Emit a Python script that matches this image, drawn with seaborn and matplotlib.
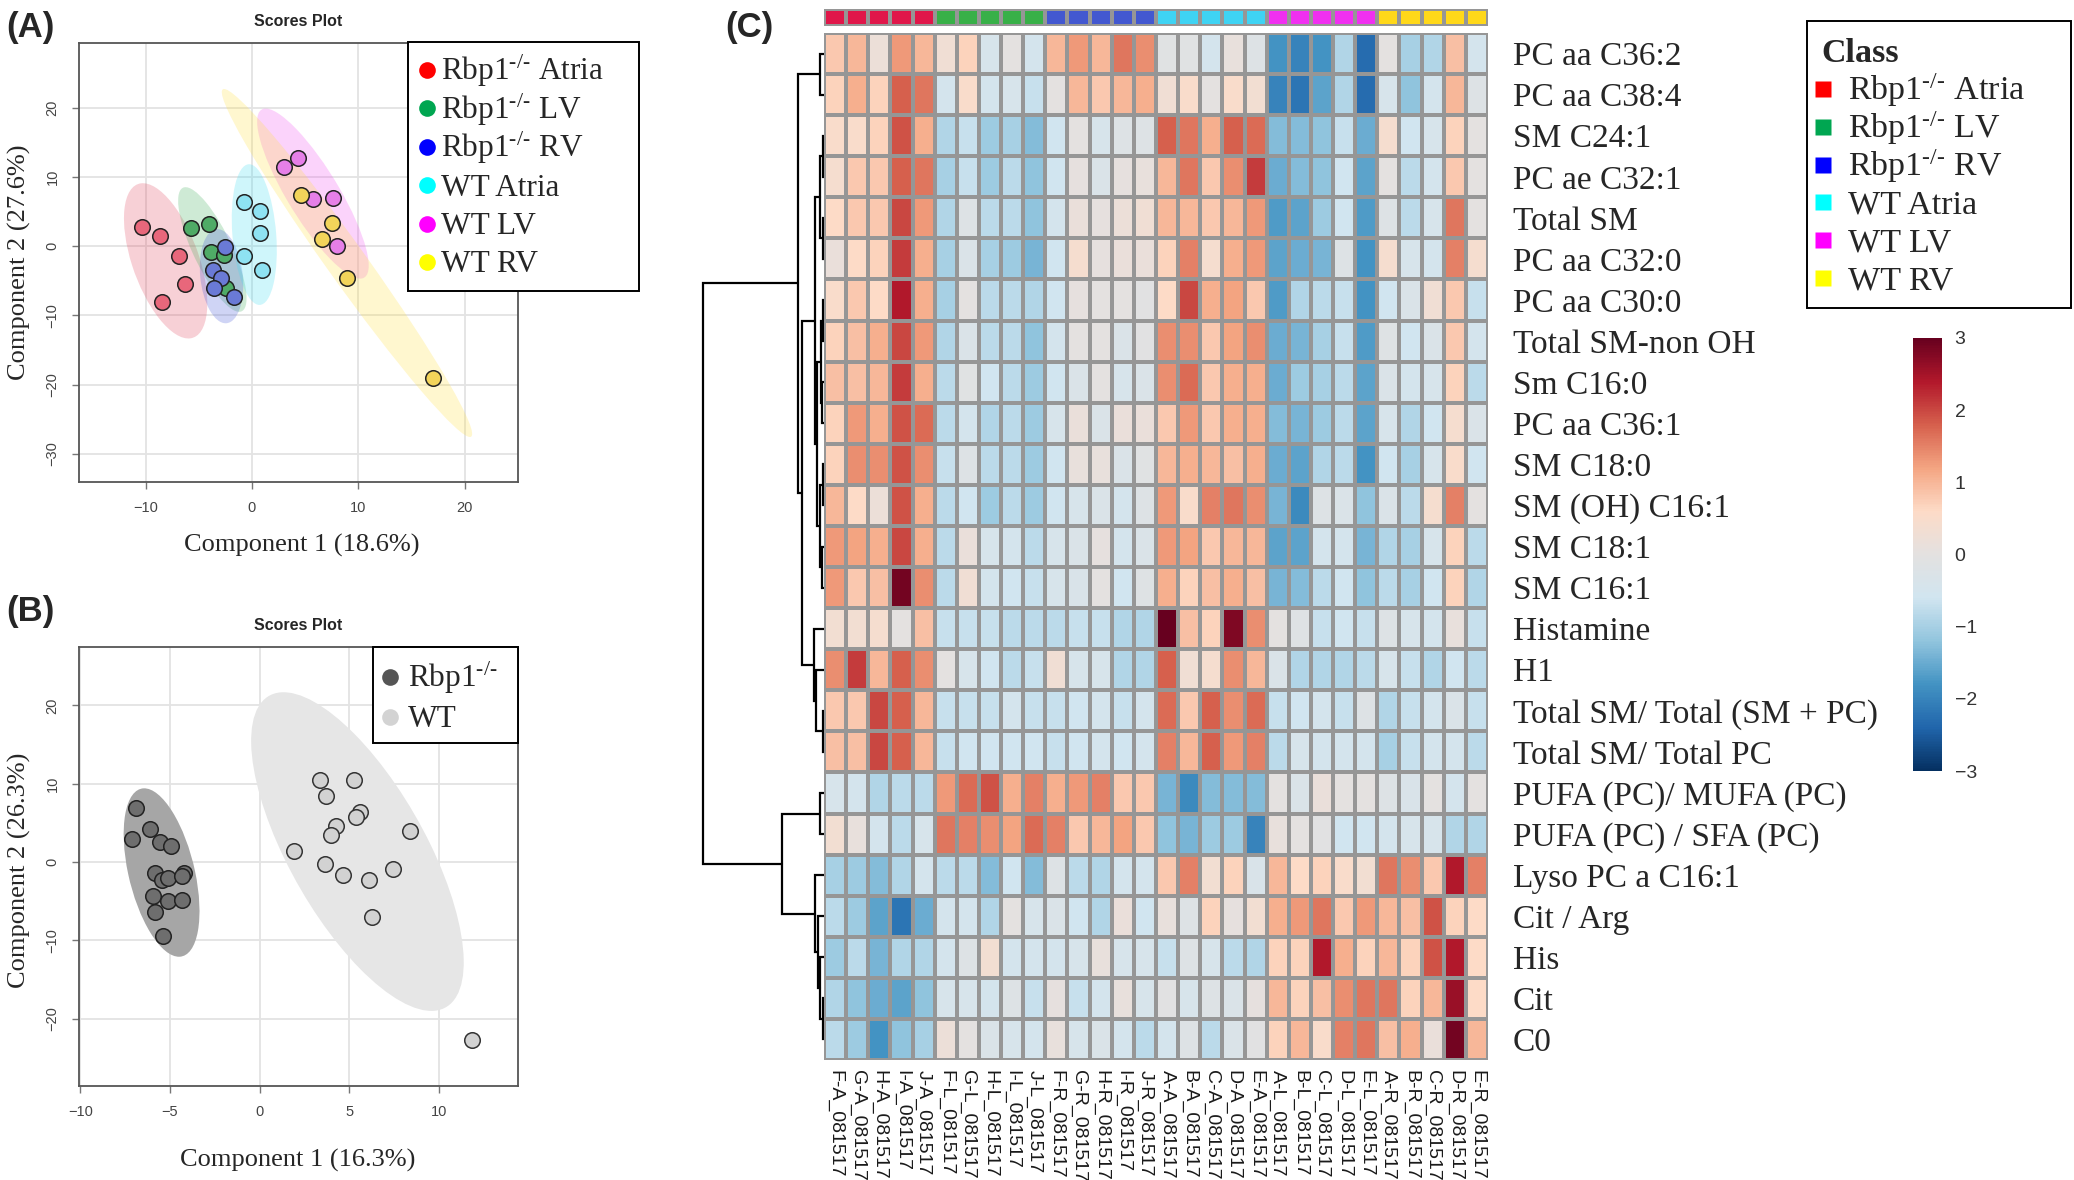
import numpy as np
import pandas as pd
import matplotlib
matplotlib.use('Agg')
import matplotlib.pyplot as plt
import seaborn as sns
from matplotlib.patches import Ellipse, Rectangle
from matplotlib.lines import Line2D
from matplotlib.colors import LinearSegmentedColormap, ListedColormap

sns.set_style('white')
plt.rcParams['font.family'] = ['Liberation Serif', 'DejaVu Serif']
plt.rcParams['mathtext.fontset'] = 'custom'
plt.rcParams['mathtext.rm'] = 'Liberation Serif'
plt.rcParams['mathtext.default'] = 'regular'

# ---------------- data: panel A (6-class PLS-DA scores) ----------------
ko_atria_x = [-10.35, -8.6, -6.85, -6.3, -8.45]
ko_atria_y = [2.8, 1.55, -1.4, -5.5, -8.0]
ko_lv_x = [-5.7, -4.05, -3.8, -2.6, -2.45]
ko_lv_y = [2.6, 3.2, -0.9, -1.25, -6.0]
ko_rv_x = [-2.5, -3.7, -2.9, -3.55, -1.65]
ko_rv_y = [-0.15, -3.4, -4.6, -6.1, -7.4]
wt_atria_x = [-0.75, 0.8, 0.8, -0.7, 0.95]
wt_atria_y = [6.35, 5.1, 1.85, -1.45, -3.4]
wt_lv_x = [3.0, 4.3, 5.7, 7.65, 8.0]
wt_lv_y = [11.5, 12.8, 6.8, 7.0, 0.0]
wt_rv_x = [4.6, 7.5, 6.55, 8.95, 17.05]
wt_rv_y = [7.35, 3.3, 1.0, -4.65, -19.1]

ko_sup = r'Rbp1$^{\text{-/-}}$'
class_labels = [ko_sup + ' Atria', ko_sup + ' LV', ko_sup + ' RV',
                'WT Atria', 'WT LV', 'WT RV']
legend_colors = ['#FF0000', '#00A651', '#0000FF', '#00FFFF', '#FF00FF', '#FFFF00']
ellipse_colors = ['#E2445C', '#3FAF5A', '#4256D8', '#40DDF2', '#F050F0', '#FFE040']
point_colors = ['#E8677B', '#4FAB66', '#6A7AD6', '#8EE2F2', '#E67FE8', '#F2D45A']

# ---------------- data: panel B (2-class scores) ----------------
ko_x = [-6.88, -6.1, -7.11, -5.54, -4.92, -5.82, -5.45, -5.08, -4.23, -4.3,
        -5.94, -5.08, -4.3, -5.84, -5.38]
ko_y = [6.89, 4.25, 2.88, 2.59, 1.98, -1.37, -2.31, -1.98, -1.37, -1.75,
        -4.29, -5.0, -4.9, -6.42, -9.39]
wt_x = [3.37, 5.24, 3.7, 5.61, 5.4, 4.27, 3.97, 8.36, 1.92, 3.65,
        4.67, 7.44, 6.1, 6.28, 11.87]
wt_y = [10.47, 10.52, 8.49, 6.37, 5.71, 4.62, 3.44, 3.92, 1.42, -0.28,
        -1.7, -0.85, -2.36, -7.03, -22.78]
two_class_labels = [ko_sup, 'WT']
two_class_colors = ['#555555', '#D3D3D3']

# ---------------- data: panel C (heatmap) ----------------
row_labels = ['PC aa C36:2', 'PC aa C38:4', 'SM C24:1', 'PC ae C32:1', 'Total SM',
              'PC aa C32:0', 'PC aa C30:0', 'Total SM-non OH', 'Sm C16:0', 'PC aa C36:1',
              'SM C18:0', 'SM (OH) C16:1', 'SM C18:1', 'SM C16:1', 'Histamine', 'H1',
              'Total SM/ Total (SM + PC)', 'Total SM/ Total PC', 'PUFA (PC)/ MUFA (PC)',
              'PUFA (PC) / SFA (PC)', 'Lyso PC a C16:1', 'Cit / Arg', 'His', 'Cit', 'C0']
col_labels = ['F-A_081517', 'G-A_081517', 'H-A_081517', 'I-A_081517', 'J-A_081517',
              'F-L_081517', 'G-L_081517', 'H-L_081517', 'I-L_081517', 'J-L_081517',
              'F-R_081517', 'G-R_081517', 'H-R_081517', 'I-R_081517', 'J-R_081517',
              'A-A_081517', 'B-A_081517', 'C-A_081517', 'D-A_081517', 'E-A_081517',
              'A-L_081517', 'B-L_081517', 'C-L_081517', 'D-L_081517', 'E-L_081517',
              'A-R_081517', 'B-R_081517', 'C-R_081517', 'D-R_081517', 'E-R_081517']
col_class = [0] * 5 + [1] * 5 + [2] * 5 + [3] * 5 + [4] * 5 + [5] * 5
annot_colors = ['#E0174A', '#38B048', '#4358D0', '#3FD3F3', '#F030F0', '#FFD81A']

hm_values = [
    [0.8, 1.0, 0.2, 1.3, 1.0, 0.3, 0.7, -0.4, 0.0, -0.5, 1.0, 1.3, 1.0, 1.6, 1.4, -0.1, -0.1, -0.5, 0.1, -0.2, -1.8, -2.0, -1.8, -0.9, -2.3, 0.0, -1.0, -0.9, 0.9, -0.5],
    [0.7, 1.1, 0.7, 1.8, 1.6, -0.5, 0.5, -0.5, -0.4, -0.7, 0.0, 1.0, 0.8, 1.0, 1.1, 0.3, 0.5, 0.0, 0.5, 0.35, -2.0, -2.2, -1.6, -0.9, -2.3, -0.4, -1.2, -0.5, 1.0, -0.2],
    [0.5, 0.5, 0.7, 1.9, 1.1, -0.9, -0.7, -1.1, -1.0, -1.3, -0.6, 0.0, -0.4, -0.2, -0.2, 1.8, 1.6, 1.1, 1.8, 1.7, -1.3, -1.3, -1.2, -0.7, -1.5, 0.4, -0.6, -0.4, 0.7, 0.0],
    [0.4, 0.8, 0.8, 1.8, 1.6, -1.0, -0.7, -1.1, -0.8, -1.2, -0.6, 0.05, -0.3, 0.05, 0.1, 1.0, 1.6, 0.8, 1.4, 2.1, -1.5, -1.3, -1.2, -0.6, -1.6, 0.0, -0.8, -0.5, 0.8, 0.0],
    [0.6, 0.8, 0.8, 2.0, 1.3, -0.9, -0.2, -0.8, -0.8, -1.2, -0.5, 0.15, 0.05, 0.2, 0.3, 1.0, 1.0, 0.8, 1.0, 1.3, -1.7, -1.6, -1.1, -0.6, -1.7, -0.2, -0.8, -0.4, 1.6, 0.0],
    [0.15, 0.6, 0.7, 2.1, 1.1, -1.0, -0.3, -1.0, -1.1, -1.4, -0.6, 0.4, 0.05, 0.15, 0.15, 0.7, 1.5, 0.4, 1.1, 1.3, -1.6, -1.5, -1.4, -0.2, -1.8, 0.4, -0.4, -0.5, 1.5, 0.4],
    [0.5, 0.8, 0.6, 2.4, 1.1, -1.0, 0.0, -0.8, -0.8, -0.9, -0.6, 0.05, 0.0, 0.0, -0.05, 0.6, 2.0, 1.1, 1.2, 0.8, -1.7, -0.9, -0.8, -0.7, -1.8, -0.6, -0.3, 0.3, 0.8, -0.7],
    [0.7, 0.9, 1.1, 2.0, 1.3, -0.9, -0.3, -0.8, -0.8, -1.2, -0.5, 0.0, 0.0, -0.3, -0.05, 1.4, 1.4, 0.8, 1.2, 1.4, -1.5, -1.4, -1.0, -0.7, -1.7, -0.15, -0.6, -0.3, 0.8, -0.5],
    [0.9, 0.9, 1.0, 2.1, 1.1, -0.8, -0.1, -0.6, -0.8, -1.1, -0.6, -0.3, 0.0, -0.4, -0.3, 1.4, 1.7, 0.8, 1.1, 1.1, -1.5, -1.1, -1.0, -0.8, -1.6, -0.3, -0.5, -0.4, 0.7, -0.8],
    [0.7, 1.3, 1.1, 1.9, 1.7, -0.8, -0.5, -0.9, -0.8, -1.1, -0.4, 0.15, -0.3, 0.15, 0.15, 0.8, 1.3, 0.8, 1.1, 1.1, -1.3, -1.4, -1.1, -0.8, -1.6, -0.4, -0.9, -0.6, 0.4, -0.3],
    [0.7, 1.4, 1.4, 1.9, 1.4, -0.7, -0.2, -0.8, -0.8, -1.1, -0.6, 0.1, 0.1, -0.3, -0.1, 1.0, 1.1, 1.0, 0.9, 1.1, -1.5, -1.6, -0.9, -0.8, -1.8, -0.6, -1.0, -0.4, 0.5, -0.6],
    [1.0, 0.6, 0.2, 1.9, 1.1, -0.8, -0.6, -1.1, -0.8, -1.1, -0.6, -0.4, -0.3, -0.5, -0.2, 1.3, 0.5, 1.5, 1.6, 1.4, -1.4, -1.9, -0.2, -0.3, -1.2, -0.3, -0.8, 0.4, 1.5, 0.0],
    [1.3, 1.2, 1.1, 2.0, 1.1, -0.8, 0.15, -0.4, -0.5, -0.8, -0.4, -0.3, 0.05, -0.5, -0.3, 1.3, 1.2, 0.8, 1.0, 1.0, -1.6, -1.6, -0.5, -0.5, -1.4, -0.9, -1.0, -0.4, 0.7, -0.8],
    [1.3, 0.8, 0.9, 2.9, 1.4, -0.8, 0.3, -0.5, -0.6, -0.7, -0.4, -0.35, 0.0, -0.6, -0.15, 1.1, 0.7, 0.9, 1.1, 0.9, -1.4, -1.3, -0.8, -0.6, -1.2, -0.8, -1.0, -0.6, 0.7, -0.9],
    [0.35, 0.35, 0.4, 0.0, 0.9, -0.7, -0.7, -0.7, -0.8, -0.8, -0.8, -0.7, -0.7, -0.9, -0.9, 3.0, 0.9, 0.7, 2.8, 1.4, 0.0, -0.15, -0.7, -0.6, -0.7, -0.2, -0.4, -0.5, 0.1, -0.7],
    [1.4, 2.1, 1.0, 1.8, 1.4, 0.0, -0.4, -0.6, -0.8, -0.7, 0.3, -0.4, -0.4, -0.9, -0.9, 1.8, 0.3, 0.4, 1.4, 1.0, -0.3, -0.9, -0.9, -0.9, -0.8, -0.4, -0.7, -0.9, -0.6, -0.8],
    [0.8, 0.8, 2.0, 1.8, 1.0, -0.7, -0.7, -0.7, -0.5, -0.7, -0.7, -0.6, -0.5, -0.7, -0.5, 1.7, 0.8, 1.8, 1.4, 1.7, -0.7, -0.6, -0.5, -0.7, -0.2, -0.9, -0.7, -0.5, -0.3, -0.7],
    [0.9, 0.9, 2.0, 1.8, 1.0, -0.7, -0.6, -0.6, -0.6, -0.6, -0.7, -0.6, -0.5, -0.6, -0.5, 1.5, 1.0, 1.8, 1.3, 1.5, -0.8, -0.4, -0.5, -0.5, -0.5, -1.0, -0.7, -0.5, -0.5, -0.8],
    [-0.4, -0.5, -0.9, -0.8, -0.8, 1.3, 1.7, 1.9, 1.1, 1.5, 1.1, 1.3, 1.5, 0.8, 0.8, -1.4, -1.9, -1.3, -1.3, -1.3, 0.0, -0.3, 0.15, 0.0, 0.0, -0.2, -0.35, 0.0, -0.5, 0.0],
    [0.35, 0.1, -0.5, -0.8, -0.4, 1.6, 1.5, 1.4, 1.2, 1.7, 1.5, 0.8, 1.0, 1.2, 0.8, -1.2, -1.4, -1.1, -1.1, -2.0, 0.1, 0.0, -0.05, -0.6, -0.6, -0.5, -0.4, -0.4, -0.9, -0.9],
    [-1.0, -1.1, -1.3, -0.9, -0.5, -0.8, -0.8, -1.3, -0.6, -1.3, -0.2, -0.8, -0.9, -0.5, -0.5, 0.8, 1.5, 0.35, 0.7, -0.35, 1.0, 0.6, 0.7, 0.5, 0.35, 1.6, 1.4, 0.8, 2.4, 1.5],
    [-0.8, -1.1, -1.6, -2.2, -1.5, -0.5, -0.5, -0.9, 0.0, -0.4, -0.3, -0.6, -0.9, 0.15, -0.6, 0.1, -0.2, 0.7, 0.05, 0.35, 1.1, 1.3, 1.6, 0.8, 1.3, 1.0, 0.9, 1.9, 0.7, 0.6],
    [-1.1, -0.8, -1.4, -0.9, -0.9, -0.5, -0.2, 0.35, -0.5, -0.5, -0.5, -0.4, 0.1, -0.4, -0.4, -0.7, -0.2, -0.4, -0.8, -0.9, 0.7, 0.7, 2.4, 1.1, 0.7, 1.0, 0.7, 1.9, 2.4, 0.6],
    [-0.9, -1.2, -1.5, -1.6, -1.2, -0.4, -0.4, -0.5, -0.2, -0.7, 0.05, -0.7, -0.5, 0.1, -0.4, -0.05, -0.4, -0.2, -0.3, 0.05, 1.0, 0.7, 0.9, 1.4, 1.6, 1.6, 0.7, 1.0, 2.6, 0.6],
    [-0.8, -1.1, -1.8, -1.2, -1.0, 0.2, 0.0, -0.3, -0.4, -0.5, 0.1, -0.4, -0.3, -0.5, -0.8, -0.5, -0.2, -0.8, -0.3, -0.05, 0.7, 1.0, 0.5, 1.5, 1.6, 0.9, 1.1, 0.15, 2.9, 1.0],
]

# row dendrogram: (child a, child b, height); leaves 0-24, new clusters 25+
dendro_merges = [
    (16, 17, 1.0), (2, 3, 1.0), (4, 5, 1.5), (6, 7, 1.5), (10, 11, 1.5),
    (23, 24, 1.5), (8, 9, 2.0), (12, 13, 2.0), (28, 31, 3.0), (29, 32, 4.0),
    (26, 27, 4.0), (0, 1, 4.0), (18, 19, 4.0), (22, 30, 4.0), (21, 38, 6.0),
    (33, 34, 7.0), (15, 25, 8.0), (35, 40, 9.0), (20, 39, 9.0), (14, 41, 10.0),
    (42, 44, 22.0), (36, 45, 26.0), (37, 43, 42.0), (46, 47, 121.0),
]

# ---------------- figure ----------------
W, H = 2074, 1180
fig = plt.figure(figsize=(W / 100, H / 100), dpi=100)
fig.patch.set_facecolor('white')


def px_axes(l, t, r, b):
    return fig.add_axes([l / W, 1 - b / H, (r - l) / W, (b - t) / H])


def fig_text(x, y, s, **kw):
    fig.text(x / W, 1 - y / H, s, **kw)


def add_ellipse(ax, x, y, color, alpha):
    x = np.asarray(x)
    y = np.asarray(y)
    vals, vecs = np.linalg.eigh(np.cov(x, y))
    order = vals.argsort()[::-1]
    vals, vecs = vals[order], vecs[:, order]
    angle = np.degrees(np.arctan2(vecs[1, 0], vecs[0, 0]))
    w, h = 2 * np.sqrt(vals * 5.991)
    ax.add_patch(Ellipse((x.mean(), y.mean()), w, h, angle=angle,
                         facecolor=color, alpha=alpha, edgecolor='none', zorder=1))


def box_legend(box, labels, colors, marker, msize, mx, tx, y0, step, fs, title=None):
    # framed legend drawn in figure pixel space
    l, t, r, b = box
    fig.add_artist(Rectangle((l / W, 1 - b / H), (r - l) / W, (b - t) / H,
                             transform=fig.transFigure, facecolor='white',
                             edgecolor='black', lw=1.4, zorder=20))
    cap = 0.33 * fs * 100 / 72
    if title is not None:
        fig_text(mx - 2, y0 - step + cap, title, fontsize=fs, fontweight='bold',
                 ha='left', va='baseline', zorder=22)
    for i, (lab, c) in enumerate(zip(labels, colors)):
        y = y0 + i * step
        fig.add_artist(Line2D([mx / W], [1 - y / H], transform=fig.transFigure,
                              marker=marker, ms=msize, mfc=c, mec='none', ls='none',
                              zorder=21))
        fig_text(tx, y + cap, lab, fontsize=fs, ha='left', va='baseline', zorder=22)


def style_scores(ax, xticks, yticks, xlim, ylim):
    ax.set_xlim(*xlim)
    ax.set_ylim(*ylim)
    ax.set_xticks(xticks)
    ax.set_yticks(yticks)
    ax.grid(True, color='#E3E3E3', lw=1.3, zorder=0)
    ax.set_axisbelow(True)
    for sp in ax.spines.values():
        sp.set_color('#555555')
        sp.set_linewidth(1.3)
    ax.tick_params(direction='out', length=5, width=1, color='#777777',
                   labelsize=10.5, labelcolor='#444444', bottom=True, left=True)
    for lab in ax.get_xticklabels() + ax.get_yticklabels():
        lab.set_fontfamily('Liberation Sans')
    for lab in ax.get_yticklabels():
        lab.set_rotation(90)
        lab.set_va('center')
    ax.tick_params(axis='x', pad=9)
    ax.tick_params(axis='y', pad=9)
    ax.set_title('Scores Plot', fontsize=11.5, fontweight='bold',
                 family='Liberation Sans', pad=12)


# ---- panel A ----
axA = px_axes(79, 43, 518, 482)
groups_x = [ko_atria_x, ko_lv_x, ko_rv_x, wt_atria_x, wt_lv_x, wt_rv_x]
groups_y = [ko_atria_y, ko_lv_y, ko_rv_y, wt_atria_y, wt_lv_y, wt_rv_y]
for gx, gy, ec in zip(groups_x, groups_y, ellipse_colors):
    add_ellipse(axA, gx, gy, ec, 0.25)
for gx, gy, pc in zip(groups_x, groups_y, point_colors):
    sns.scatterplot(x=gx, y=gy, ax=axA, color=pc, s=125, edgecolor='#222222',
                    linewidth=1.1, zorder=3, legend=False)
style_scores(axA, [-10, 0, 10, 20], [20, 10, 0, -10, -20, -30], (-16.25, 25), (-34.1, 29.4))
box_legend((408, 42, 639, 291), class_labels, legend_colors, 'o', 12,
           mx=427, tx=441, y0=70, step=38.4, fs=22.5)
fig_text(302, 545, 'Component 1 (18.6%)', fontsize=19, ha='center', va='center')
fig_text(19, 262, 'Component 2 (27.6%)', fontsize=19, ha='center', va='center', rotation=90)
fig_text(6, 27, '(A)', fontsize=25, fontweight='bold', family='Liberation Sans', va='center')

# ---- panel B ----
axB = px_axes(79, 647, 518, 1086)
add_ellipse(axB, ko_x, ko_y, '#A6A6A6', 1.0)
add_ellipse(axB, wt_x, wt_y, '#E6E6E6', 1.0)
sns.scatterplot(x=ko_x, y=ko_y, ax=axB, color='#6E6E6E', s=125, edgecolor='#222222',
                linewidth=1.1, zorder=3, legend=False)
sns.scatterplot(x=wt_x, y=wt_y, ax=axB, color='#D2D2D2', s=125, edgecolor='#333333',
                linewidth=1.1, zorder=3, legend=False)
style_scores(axB, [-10, -5, 0, 5, 10], [20, 10, 0, -10, -20], (-10.07, 14.41), (-28.6, 27.45))
box_legend((373, 647, 518, 743), two_class_labels, two_class_colors, 'o', 12,
           mx=390, tx=408, y0=677, step=39.5, fs=22.5)
fig_text(298, 1160, 'Component 1 (16.3%)', fontsize=19, ha='center', va='center')
fig_text(19, 870, 'Component 2 (26.3%)', fontsize=19, ha='center', va='center', rotation=90)
fig_text(6, 612, '(B)', fontsize=25, fontweight='bold', family='Liberation Sans', va='center')

# ---- panel C: heatmap ----
hm_left, hm_right, hm_top, hm_bottom = 824, 1488, 33, 1060
ax_hm = px_axes(hm_left, hm_top, hm_right, hm_bottom)
ax_cb = px_axes(1913, 338, 1942, 771)
hm_df = pd.DataFrame(hm_values, index=row_labels, columns=col_labels)
cmap = LinearSegmentedColormap.from_list(
    'rdbu_gray', ['#053061', '#2166ac', '#4393c3', '#92c5de', '#d1e5f0', '#e3e1e0',
                  '#fddbc7', '#f4a582', '#d6604d', '#b2182b', '#67001f'])
sns.heatmap(hm_df, ax=ax_hm, cmap=cmap, vmin=-3, vmax=3, cbar_ax=ax_cb,
            cbar_kws={'ticks': [-3, -2, -1, 0, 1, 2, 3]},
            linewidths=1.5, linecolor='#969696', xticklabels=True, yticklabels=True)
ax_hm.yaxis.tick_right()
ax_hm.set_yticklabels(row_labels, rotation=0, fontsize=24, family='Liberation Serif')
ax_hm.set_xticklabels(col_labels, rotation=270, fontsize=14, family='Liberation Sans',
                      color='#1a1a1a')
ax_hm.tick_params(axis='y', length=0, pad=18)
ax_hm.tick_params(axis='x', length=0, pad=7)
ax_hm.set_xlabel('')
ax_hm.set_ylabel('')

cb = ax_hm.collections[0].colorbar
cb.outline.set_visible(False)
cb.ax.tick_params(length=0, labelsize=14, pad=9, labelcolor='#333333')
for lab in cb.ax.get_yticklabels():
    lab.set_fontfamily('Liberation Sans')

# class annotation bar
ax_an = px_axes(hm_left, 9, hm_right, 26)
sns.heatmap(np.array([col_class]), ax=ax_an, cmap=ListedColormap(annot_colors),
            vmin=-0.5, vmax=5.5, cbar=False, linewidths=1.5, linecolor='#969696',
            xticklabels=False, yticklabels=False)

# row dendrogram
ax_den = px_axes(700, hm_top, hm_left, hm_bottom)
n_rows = len(row_labels)
node_pos = {i: (i + 0.5, 0.0) for i in range(n_rows)}
for k, (a, b, h) in enumerate(dendro_merges):
    ya, ha = node_pos[a]
    yb, hb = node_pos[b]
    ax_den.plot([ha, h, h, hb], [ya, ya, yb, yb], color='black', lw=1.6,
                solid_joinstyle='miter')
    node_pos[n_rows + k] = ((ya + yb) / 2, h)
ax_den.set_xlim(124, 0)
ax_den.set_ylim(n_rows, 0)
ax_den.axis('off')

# class legend
box_legend((1807, 21, 2071, 308), class_labels, legend_colors, 's', 11,
           mx=1823, tx=1848, y0=89, step=37.8, fs=24.5, title='Class')

fig_text(725, 27, '(C)', fontsize=25, fontweight='bold', family='Liberation Sans', va='center')

fig.savefig('out.png', dpi=100, facecolor='white')
